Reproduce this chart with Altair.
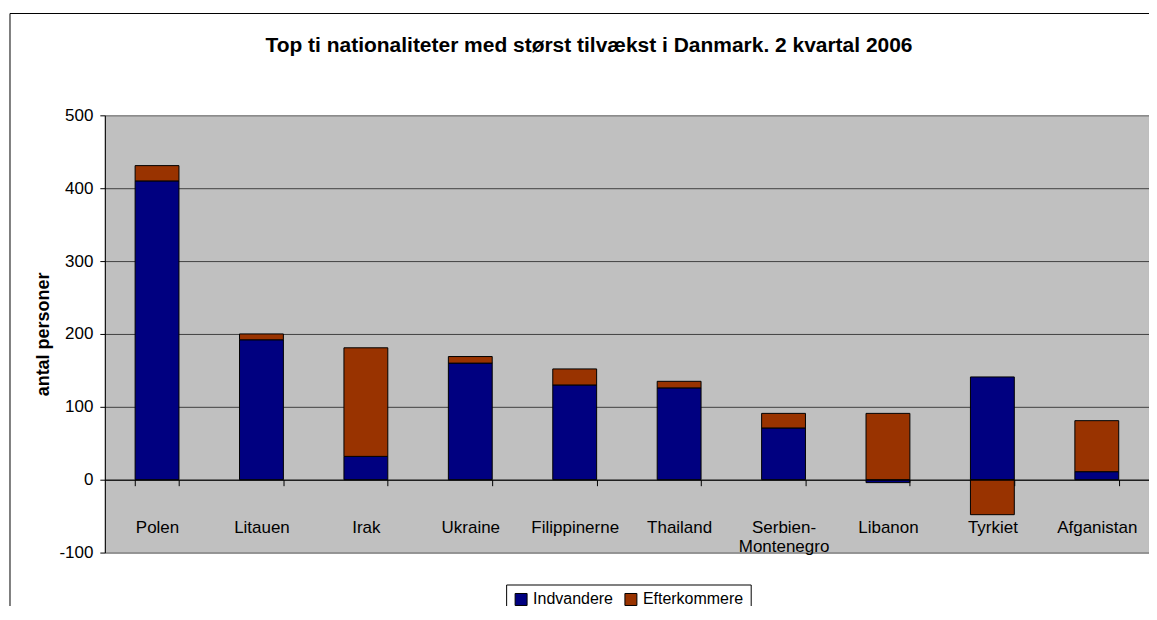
import altair as alt
import pandas as pd

countries = ["Polen", "Litauen", "Irak", "Ukraine", "Filippinerne", "Thailand",
             "Serbien-Montenegro", "Libanon", "Tyrkiet", "Afganistan"]
indvandere = [410, 192, 32, 160, 130, 126, 71, -4, 141, 11]
efterkommere = [21, 8, 149, 9, 22, 9, 20, 91, -48, 70]
series = ["Indvandere", "Efterkommere"]
colors = ["#000080", "#993300"]
y_ticks = [-100, 0, 100, 200, 300, 400, 500]

rows = []
for c, a, b in zip(countries, indvandere, efterkommere):
    rows.append({"land": c, "gruppe": series[0], "antal": a, "rank": 0})
    rows.append({"land": c, "gruppe": series[1], "antal": b, "rank": 1})
df = pd.DataFrame(rows)

FONT = "Arial, Liberation Sans, sans-serif"
y_scale = alt.Scale(domain=[-100, 500], nice=False, zero=False)

frame = alt.Chart(alt.Data(values=[{"a": 1}])).mark_rect(
    fill="transparent", stroke="black", strokeWidth=1
).encode(
    x=alt.value(-95), x2=alt.value(1060), y=alt.value(-102), y2=alt.value(560)
)

bars = alt.Chart(df).mark_bar(stroke="black", strokeWidth=1).encode(
    x=alt.X(
        "land:N", sort=countries,
        scale=alt.Scale(paddingInner=0.58, paddingOuter=0.29),
        axis=alt.Axis(
            title=None, labelAngle=0, offset=-73, domainColor="black",
            tickColor="black", tickSize=6, tickBand="extent",
            labelFont=FONT, labelFontSize=17, labelColor="black",
            labelPadding=34, labelBaseline="top", labelLineHeight=19,
            labelExpr="datum.value == 'Serbien-Montenegro' ? ['Serbien-', 'Montenegro'] : datum.value",
            labelOverlap=False, zindex=1, grid=False,
        ),
    ),
    y=alt.Y(
        "antal:Q", scale=y_scale, stack="zero",
        axis=alt.Axis(
            values=y_ticks, title="antal personer", titleFont=FONT,
            titleFontSize=18, titleFontWeight="bold", titleColor="black",
            titlePadding=6, labelFont=FONT, labelFontSize=17,
            labelColor="black", labelPadding=7, tickColor="black",
            labelExpr="datum.value + ''",
            tickSize=5, domainColor="black", grid=True,
            gridColor={"condition": {"test": "datum.value === 500 || datum.value === -100",
                                     "value": "#808080"}, "value": "#404040"},
            gridWidth=1,
        ),
    ),
    color=alt.Color(
        "gruppe:N", scale=alt.Scale(domain=series, range=colors),
        legend=alt.Legend(
            title=None, orient="none", legendX=402, legendY=470,
            direction="horizontal", padding=7, strokeColor="black",
            fillColor="white", symbolType="square", symbolSize=144,
            symbolStrokeColor="black", symbolStrokeWidth=1,
            labelFont=FONT, labelFontSize=16, labelColor="black",
            columnPadding=9, labelOffset=4,
        ),
    ),
    order=alt.Order("rank:Q"),
)

chart = alt.layer(frame, bars).properties(
    width=1046, height=438,
    title=alt.TitleParams(
        text="Top ti nationaliteter med størst tilvækst i Danmark. 2 kvartal 2006",
        font=FONT, fontSize=21, fontWeight="bold", color="black",
        anchor="middle", baseline="alphabetic", offset=-60, dx=-38,
    ),
    autosize=alt.AutoSizeParams(type="none"),
    padding={"left": 97, "top": 107, "right": 0, "bottom": 53},
    background="white",
).configure_view(fill="#C0C0C0", stroke="#808080", strokeWidth=1)

chart.save("out.html", embed_options={"renderer": "svg", "actions": False})
